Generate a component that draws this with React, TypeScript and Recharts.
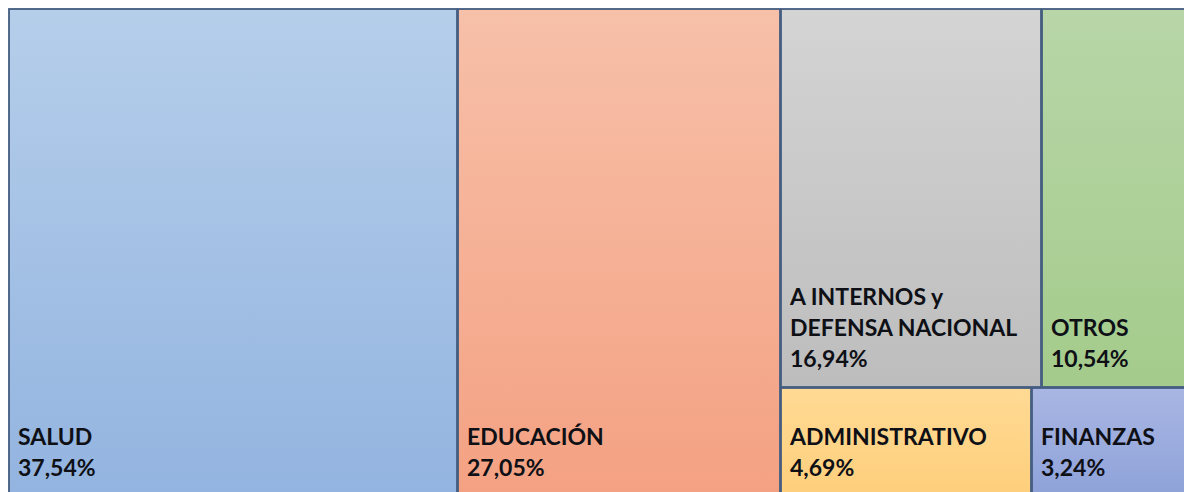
import { Treemap } from 'recharts'

const names = [
  'SALUD',
  'EDUCACIÓN',
  'A INTERNOS y DEFENSA NACIONAL',
  'OTROS',
  'ADMINISTRATIVO',
  'FINANZAS',
]
const shares = [37.54, 27.05, 16.94, 10.54, 4.69, 3.24]
const topColors = ['#B5CEEA', '#F7C0A9', '#D4D4D4', '#B8D6A8', '#FFDA94', '#A9B6E3']
const bottomColors = ['#93B4E0', '#F4A182', '#BDBDBD', '#A4CB8B', '#FECF7C', '#8EA2D9']

const data = names.map((name, i) => ({ name, value: shares[i], idx: i }))

const FONT = 'bold 23px Lato, "Open Sans", sans-serif'
const LINE = 31

let ctx: CanvasRenderingContext2D | null = null
function measure(s: string) {
  if (!ctx) ctx = document.createElement('canvas').getContext('2d')
  if (!ctx) return s.length * 14
  ctx.font = FONT
  return ctx.measureText(s).width
}

function wrap(text: string, maxW: number) {
  const words = text.split(' ')
  const lines: string[] = []
  let cur = ''
  for (const w of words) {
    const next = cur ? cur + ' ' + w : w
    if (cur && measure(next) > maxW) {
      lines.push(cur)
      cur = w
    } else cur = next
  }
  if (cur) lines.push(cur)
  return lines
}

function Cell(props: any) {
  const { x, y, width, height, depth, name, value, idx } = props
  if (depth === 0 || idx === undefined) return null
  const id = `g${idx}`
  const lines = [...wrap(name, width - 22), `${Number(value).toFixed(2).replace('.', ',')}%`]
  const baseY = y + height - 20
  return (
    <g>
      <defs>
        <linearGradient id={id} x1="0" y1="0" x2="0" y2="1">
          <stop offset="0%" stopColor={topColors[idx]} />
          <stop offset="100%" stopColor={bottomColors[idx]} />
        </linearGradient>
      </defs>
      <rect
        x={x + 1}
        y={y + 1}
        width={width - 1}
        height={height - 1}
        fill={`url(#${id})`}
        stroke="#435C80"
        strokeWidth={1.8}
      />
      {lines.map((l, k) => (
        <text
          key={k}
          x={x + 10}
          y={baseY - (lines.length - 1 - k) * LINE}
          fill="#0E1016"
          style={{ font: FONT }}
        >
          {l}
        </text>
      ))}
    </g>
  )
}

export default function App() {
  return (
    <div style={{ width: 1184, height: 484, overflow: 'hidden', background: '#fff' }}>
      <Treemap
        width={1195}
        height={488}
        data={data}
        dataKey="value"
        nameKey="name"
        aspectRatio={1.25}
        isAnimationActive={false}
        content={<Cell />}
      />
    </div>
  )
}
